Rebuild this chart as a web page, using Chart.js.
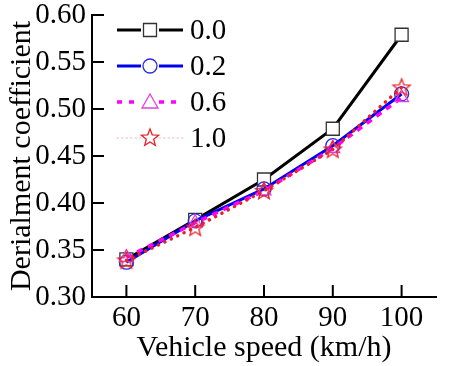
<!DOCTYPE html>
<html>
<head>
<meta charset="utf-8">
<script src="https://cdn.jsdelivr.net/npm/chart.js@4/dist/chart.umd.min.js"></script>
<style>
  html, body { margin: 0; padding: 0; background: #fff; }
  #wrap { width: 461px; height: 366px; }
</style>
</head>
<body>
<div id="wrap"><canvas id="derailChart" width="461" height="366"></canvas></div>
<script>
// vehicle speed (km/h) and derailment coefficient per series
const speeds = [60, 70, 80, 90, 100];
const seriesNames = ['0.0', '0.2', '0.6', '1.0'];
const coef00 = [0.340, 0.382, 0.425, 0.479, 0.579];
const coef02 = [0.337, 0.381, 0.415, 0.461, 0.516];
const coef06 = [0.342, 0.379, 0.413, 0.458, 0.512];
const coef10 = [0.339, 0.374, 0.413, 0.457, 0.523];
const yTicks = [0.30, 0.35, 0.40, 0.45, 0.50, 0.55, 0.60];

const FONT = "'Liberation Serif', 'Times New Roman', serif";

function starPath(ctx, cx, cy, R, r) {
    ctx.beginPath();
    for (let i = 0; i < 10; i++) {
        const rad = i % 2 === 0 ? R : r;
        const a = -Math.PI / 2 + i * Math.PI / 5;
        const px = cx + rad * Math.cos(a), py = cy + rad * Math.sin(a);
        if (i === 0) ctx.moveTo(px, py); else ctx.lineTo(px, py);
    }
    ctx.closePath();
}

function drawMarker(ctx, kind, x, y, stroke, fill) {
    ctx.save();
    ctx.strokeStyle = stroke;
    ctx.fillStyle = fill;
    ctx.lineWidth = 1.3;
    ctx.beginPath();
    if (kind === 'rect') {
        ctx.rect(x - 6.5, y - 6.5, 13, 13);
    } else if (kind === 'circle') {
        ctx.arc(x, y, 7, 0, Math.PI * 2);
    } else if (kind === 'triangle') {
        ctx.moveTo(x, y - 8);
        ctx.lineTo(x + 8, y + 6);
        ctx.lineTo(x - 8, y + 6);
        ctx.closePath();
    } else {
        starPath(ctx, x, y, 9, 3.9);
    }
    ctx.fill();
    ctx.stroke();
    ctx.restore();
}

const starImg = document.createElement('canvas');
starImg.width = 22; starImg.height = 22;
drawMarker(starImg.getContext('2d'), 'star', 11, 11.5, '#e8202a', 'rgba(255,255,255,0)');

const markerKinds = ['rect', 'circle', 'triangle', 'star'];

// inward tick marks, placed from the scales
const innerTicks = {
    id: 'innerTicks',
    afterDraw(chart) {
        const ctx = chart.ctx;
        const xs = chart.scales.x, ys = chart.scales.y;
        ctx.save();
        ctx.strokeStyle = '#000';
        ctx.lineWidth = 2;
        ctx.beginPath();
        xs.ticks.forEach((t, i) => {
            const px = xs.getPixelForTick(i);
            ctx.moveTo(px, ys.bottom);
            ctx.lineTo(px, ys.bottom - 12);
        });
        ys.ticks.forEach((t, i) => {
            const py = ys.getPixelForTick(i);
            ctx.moveTo(xs.left, py);
            ctx.lineTo(xs.left + 12, py);
        });
        ctx.stroke();
        ctx.restore();
    }
};

// legend: line + marker + label, top left inside the plot
const lineLegend = {
    id: 'lineLegend',
    afterDraw(chart) {
        const ctx = chart.ctx;
        const x0 = 117, x1 = 183, xm = 150;
        chart.data.datasets.forEach((ds, i) => {
            const y = 30 + i * 36;
            ctx.save();
            ctx.strokeStyle = ds.legendLine || ds.borderColor;
            ctx.lineWidth = ds.legendWidth || ds.borderWidth;
            ctx.lineCap = ds.borderCapStyle || 'butt';
            ctx.setLineDash(ds.legendDash || ds.borderDash || []);
            ctx.beginPath();
            ctx.moveTo(x0, y); ctx.lineTo(xm - 9, y);
            ctx.moveTo(xm + 9, y); ctx.lineTo(x1, y);
            ctx.stroke();
            ctx.restore();
            drawMarker(ctx, markerKinds[i], xm, y, ds.pointBorderColor, '#fff');
            ctx.save();
            ctx.fillStyle = '#000';
            ctx.font = '29px ' + FONT;
            ctx.textBaseline = 'middle';
            ctx.fillText(ds.label, 190, y + 1);
            ctx.restore();
        });
    }
};

new Chart(document.getElementById('derailChart').getContext('2d'), {
    type: 'line',
    data: {
        labels: speeds,
        datasets: [
            {
                label: seriesNames[0], data: coef00, order: 4,
                borderColor: '#000', borderWidth: 3,
                pointStyle: 'rect', pointRadius: 9.2,
                pointBorderColor: '#333', pointBackgroundColor: '#fff', pointBorderWidth: 1.3
            },
            {
                label: seriesNames[1], data: coef02, order: 3,
                borderColor: '#0000ee', borderWidth: 3,
                pointStyle: 'circle', pointRadius: 7,
                pointBorderColor: '#2a2ae0', pointBackgroundColor: 'rgba(255,255,255,0)', pointBorderWidth: 1.3
            },
            {
                label: seriesNames[2], data: coef06, order: 2,
                borderColor: '#ff00ff', borderWidth: 3.5, borderDash: [6, 6],
                legendDash: [5, 7],
                pointStyle: 'triangle', pointRadius: 8,
                pointBorderColor: '#e040e0', pointBackgroundColor: 'rgba(255,255,255,0)', pointBorderWidth: 1.3
            },
            {
                label: seriesNames[3], data: coef10, order: 1,
                borderColor: '#e8202a', borderWidth: 3.5, borderDash: [0.1, 7], borderCapStyle: 'round',
                legendLine: '#f4b8c0', legendWidth: 1.2, legendDash: [1.5, 3],
                pointStyle: starImg, pointRadius: 9,
                pointBorderColor: '#e8202a', pointBackgroundColor: 'rgba(255,255,255,0)'
            }
        ]
    },
    options: {
        responsive: false,
        animation: false,
        layout: { padding: { top: 15, right: 25, left: 0, bottom: 0 } },
        elements: { line: { tension: 0 } },
        plugins: { legend: { display: false }, tooltip: { enabled: false } },
        scales: {
            x: {
                type: 'category',
                offset: true,
                grid: { display: false, offset: false, drawTicks: false },
                border: { display: true, color: '#000', width: 2 },
                ticks: { color: '#000', font: { family: FONT, size: 29 }, padding: 4, maxRotation: 0 },
                title: { display: true, text: 'Vehicle speed (km/h)', color: '#000', font: { family: FONT, size: 30 }, padding: { top: -7, bottom: 0 } },
                afterFit: s => { s.height = 69; s.paddingLeft = 0; s.paddingRight = 0; }
            },
            y: {
                min: yTicks[0], max: yTicks[yTicks.length - 1],
                afterBuildTicks: s => { s.ticks = yTicks.map(v => ({ value: v })); },
                grid: { display: false, drawTicks: false },
                border: { display: true, color: '#000', width: 2 },
                ticks: { color: '#000', font: { family: FONT, size: 29 }, padding: 6, callback: v => v.toFixed(2) },
                title: { display: true, text: 'Derialment coefficient', color: '#000', font: { family: FONT, size: 30 }, padding: { top: 4, bottom: 0 } },
                afterFit: s => { s.width = 92; s.paddingTop = 0; s.paddingBottom = 0; }
            }
        }
    },
    plugins: [innerTicks, lineLegend]
});
</script>
</body>
</html>
